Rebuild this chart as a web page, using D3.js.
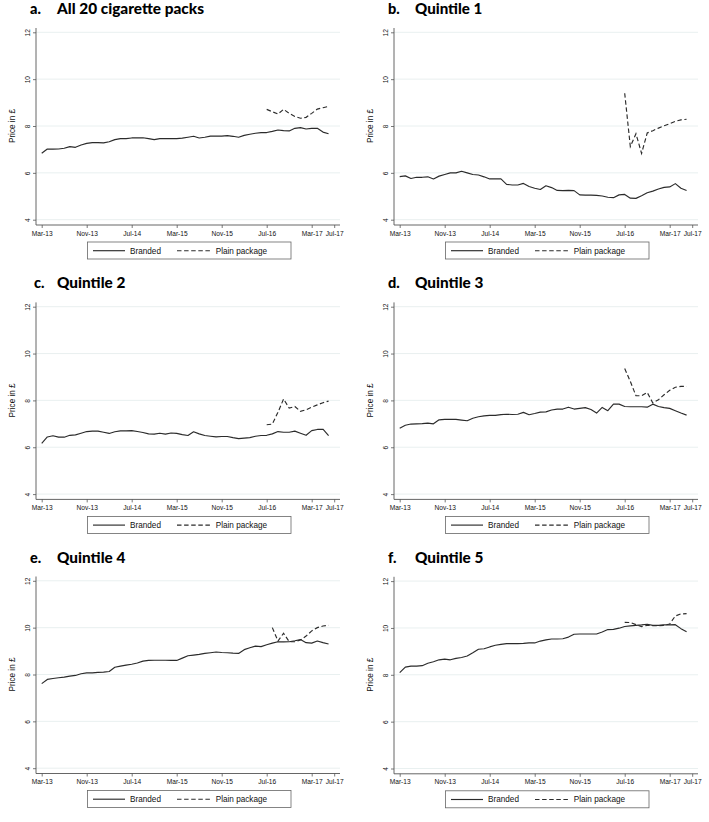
<!DOCTYPE html>
<html><head><meta charset="utf-8">
<script src="https://cdn.jsdelivr.net/npm/d3@7/dist/d3.min.js"></script>
<style>
html,body{margin:0;padding:0;background:#fff;}
svg{display:block;}
</style></head>
<body>
<svg id="chart" width="709" height="822"></svg>
<script>
// ---------- data ----------
const xTickMonths = [0, 8, 16, 24, 32, 40, 48, 52];
const xTickLabels = ["Mar-13","Nov-13","Jul-14","Mar-15","Nov-15","Jul-16","Mar-17","Jul-17"];
const yTicks = [4, 6, 8, 10, 12];
const seriesNames = ["Branded", "Plain package"];
const panelLetters = ["a.", "b.", "c.", "d.", "e.", "f."];
const panelTitles = ["All 20 cigarette packs", "Quintile 1", "Quintile 2", "Quintile 3", "Quintile 4", "Quintile 5"];
const plainStartMonth = [40, 40, 40, 40, 41, 40];

const brandedA = [6.84,7.02,7.01,7.02,7.05,7.12,7.09,7.19,7.26,7.29,7.29,7.28,7.33,7.42,7.46,7.46,7.49,7.49,7.50,7.46,7.42,7.46,7.46,7.46,7.46,7.48,7.52,7.56,7.49,7.52,7.57,7.57,7.57,7.59,7.56,7.52,7.60,7.65,7.69,7.72,7.72,7.77,7.83,7.80,7.79,7.90,7.93,7.87,7.90,7.90,7.74,7.67];
const plainA = [8.71,8.61,8.51,8.71,8.54,8.41,8.33,8.37,8.54,8.72,8.78,8.84];

const brandedB = [5.84,5.87,5.76,5.81,5.81,5.83,5.74,5.86,5.93,6.00,6.00,6.07,6.00,5.93,5.91,5.83,5.74,5.74,5.74,5.51,5.48,5.48,5.55,5.42,5.34,5.29,5.45,5.37,5.25,5.24,5.25,5.24,5.06,5.05,5.05,5.04,5.01,4.96,4.94,5.06,5.08,4.92,4.91,5.02,5.15,5.22,5.31,5.38,5.40,5.54,5.34,5.25];
const plainB = [9.40,7.12,7.67,6.83,7.70,7.80,7.91,8.01,8.10,8.20,8.26,8.29];

const brandedC = [6.17,6.44,6.49,6.43,6.43,6.51,6.53,6.60,6.67,6.69,6.69,6.64,6.59,6.66,6.70,6.70,6.71,6.67,6.63,6.57,6.56,6.60,6.56,6.61,6.59,6.54,6.50,6.66,6.57,6.50,6.47,6.44,6.46,6.46,6.41,6.37,6.39,6.41,6.47,6.50,6.51,6.57,6.67,6.64,6.64,6.69,6.60,6.51,6.71,6.76,6.77,6.50];
const plainC = [6.96,6.99,7.49,8.06,7.67,7.74,7.53,7.60,7.71,7.81,7.90,7.97];

const brandedD = [6.81,6.94,6.99,7.00,7.01,7.03,7.00,7.17,7.19,7.19,7.19,7.16,7.13,7.24,7.30,7.34,7.36,7.36,7.39,7.41,7.40,7.41,7.49,7.39,7.44,7.50,7.51,7.59,7.63,7.63,7.71,7.63,7.66,7.69,7.61,7.46,7.70,7.56,7.84,7.84,7.74,7.73,7.73,7.73,7.71,7.84,7.74,7.69,7.66,7.56,7.46,7.37];
const plainD = [9.36,8.81,8.20,8.20,8.34,7.89,8.03,8.24,8.43,8.56,8.60,8.60];

const brandedE = [7.61,7.79,7.83,7.86,7.89,7.93,7.96,8.03,8.07,8.07,8.09,8.10,8.13,8.31,8.36,8.40,8.44,8.49,8.57,8.60,8.61,8.61,8.61,8.60,8.60,8.70,8.80,8.83,8.86,8.90,8.93,8.96,8.94,8.93,8.91,8.90,9.06,9.14,9.21,9.19,9.27,9.34,9.40,9.39,9.40,9.44,9.49,9.36,9.34,9.43,9.36,9.30];
const plainE = [10.00,9.43,9.76,9.40,9.40,9.47,9.64,9.86,10.00,10.07,10.10];

const brandedF = [8.09,8.33,8.37,8.37,8.39,8.49,8.56,8.64,8.67,8.64,8.70,8.74,8.80,8.94,9.09,9.11,9.19,9.26,9.30,9.33,9.33,9.33,9.34,9.36,9.36,9.44,9.49,9.53,9.53,9.54,9.61,9.73,9.74,9.74,9.74,9.74,9.83,9.93,9.94,9.99,10.06,10.09,10.11,10.13,10.16,10.11,10.11,10.13,10.13,10.14,9.97,9.84];
const plainF = [10.24,10.23,10.14,10.06,10.11,10.10,10.10,10.11,10.17,10.51,10.60,10.61];

const brandedAll = [brandedA, brandedB, brandedC, brandedD, brandedE, brandedF];
const plainAll = [plainA, plainB, plainC, plainD, plainE, plainF];

// ---------- layout ----------
const panelOrigins = [[0,0],[358,0],[0,274.4],[358,274.4],[0,548.5],[358,548.8]];
const titleWidths = [147, 67.3, 68.3, 68.3, 68.3, 68.3];
const svg = d3.select("#chart");
const tickFont = "'Liberation Sans', Arial, sans-serif";
const titleFont = "Lato, 'Open Sans', sans-serif";
const lineColor = "#2b2b2b";
const dashPattern = "4.5,2.6";

const x = d3.scaleLinear().domain([0, 52]).range([41.7, 334.2]);
const y = d3.scaleLinear().domain([4, 12]).range([219.7, 32.3]);
const plotLeft = 36, plotRight = 340, plotTop = 28, plotBottom = 225;

panelTitles.forEach((title, p) => {
  const g = svg.append("g").attr("transform", `translate(${panelOrigins[p][0]},${panelOrigins[p][1]})`);

  // title
  g.append("text").attr("x", 57).attr("y", 14)
    .attr("font-family", titleFont).attr("font-weight", 900).attr("font-size", 14.5)
    .attr("textLength", titleWidths[p]).attr("lengthAdjust", "spacingAndGlyphs")
    .attr("fill", "#000").text(title);
  g.append("text").attr("x", p === 2 ? 34 : 30).attr("y", 14)
    .attr("font-family", titleFont).attr("font-weight", 900).attr("font-size", 14.5)
    .attr("fill", "#000").text(panelLetters[p]);

  // gridlines
  g.append("g").selectAll("line").data(yTicks).join("line")
    .attr("x1", plotLeft).attr("x2", plotRight)
    .attr("y1", d => y(d)).attr("y2", d => y(d))
    .attr("stroke", "#e6eeee").attr("stroke-width", 0.9);

  // y axis
  const yAxis = d3.axisLeft(y).tickValues(yTicks).tickSize(3).tickPadding(2).tickFormat(d3.format("d"));
  const ya = g.append("g").attr("transform", `translate(${plotLeft},0)`).call(yAxis);
  ya.select(".domain").attr("d", `M0,${plotTop}V${plotBottom}`).attr("stroke", "#555").attr("stroke-width", 0.9);
  ya.selectAll(".tick line").attr("stroke", "#555").attr("stroke-width", 0.8);
  ya.selectAll(".tick text")
    .attr("font-family", tickFont).attr("font-size", 6.6).attr("fill", "#111")
    .attr("text-anchor", "middle").attr("x", null)
    .attr("transform", "translate(-8.5,0) rotate(-90)")
    .attr("dy", "0.35em");

  // x axis
  const xAxis = d3.axisBottom(x).tickValues(xTickMonths).tickSize(3).tickPadding(3)
    .tickFormat((d, i) => xTickLabels[i]);
  const xa = g.append("g").attr("transform", `translate(0,${plotBottom})`).call(xAxis);
  xa.select(".domain").attr("d", `M${plotLeft},0H${plotRight}`).attr("stroke", "#555").attr("stroke-width", 0.9);
  xa.selectAll(".tick line").attr("stroke", "#555").attr("stroke-width", 0.8);
  xa.selectAll(".tick text").attr("font-family", tickFont).attr("font-size", 6.6).attr("fill", "#111");

  // y title
  g.append("text").attr("transform", "translate(14.5,126) rotate(-90)")
    .attr("text-anchor", "middle").attr("font-family", tickFont).attr("font-size", 8.2)
    .attr("fill", "#111").text("Price in £");

  // lines
  const line = d3.line().x(d => x(d.m)).y(d => y(d.v));
  const bData = brandedAll[p].map((v, i) => ({m: i, v}));
  const pData = plainAll[p].map((v, i) => ({m: plainStartMonth[p] + i, v}));
  g.append("path").datum(bData).attr("d", line).attr("fill", "none")
    .attr("stroke", lineColor).attr("stroke-width", 1.15).attr("stroke-linejoin", "round");
  g.append("path").datum(pData).attr("d", line).attr("fill", "none")
    .attr("stroke", lineColor).attr("stroke-width", 1.15).attr("stroke-dasharray", dashPattern);

  // legend
  const lg = g.append("g");
  lg.append("rect").attr("x", 87.5).attr("y", 242).attr("width", 203.5).attr("height", 17)
    .attr("fill", "#fff").attr("stroke", "#666").attr("stroke-width", 0.8);
  lg.append("line").attr("x1", 93).attr("x2", 125).attr("y1", 250.7).attr("y2", 250.7)
    .attr("stroke", lineColor).attr("stroke-width", 1.15);
  lg.append("text").attr("x", 130).attr("y", 253.6).attr("font-family", tickFont)
    .attr("font-size", 8.2).attr("fill", "#111").text(seriesNames[0]);
  lg.append("line").attr("x1", 177).attr("x2", 210).attr("y1", 250.7).attr("y2", 250.7)
    .attr("stroke", lineColor).attr("stroke-width", 1.15).attr("stroke-dasharray", dashPattern);
  lg.append("text").attr("x", 215.7).attr("y", 253.6).attr("font-family", tickFont)
    .attr("font-size", 8.2).attr("fill", "#111").text(seriesNames[1]);
});
</script>
</body></html>
